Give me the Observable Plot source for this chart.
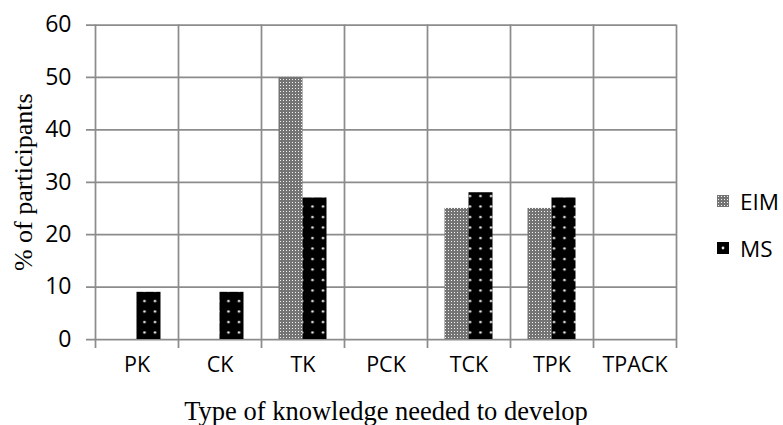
<!DOCTYPE html>
<html><head><meta charset="utf-8">
<script src="https://cdn.jsdelivr.net/npm/d3@7"></script>
<script src="https://cdn.jsdelivr.net/npm/@observablehq/plot@0.6"></script>
<style>
body{margin:0;background:#fff;}
#wrap{position:relative;width:783px;height:425px;overflow:hidden;}
#legend{position:absolute;left:717px;top:186px;font-family:"Open Sans",sans-serif;font-size:22.5px;color:#000;}
.item{display:flex;align-items:center;height:30px;margin-bottom:17px;}
.item svg{margin-right:11px;}
</style></head><body><div id="wrap"></div>
<script>
const categories = ["PK","CK","TK","PCK","TCK","TPK","TPACK"];
const series = ["EIM","MS"];
const eimValues = [0,0,50,0,25,25,0];
const msValues = [9,9,27,0,28,27,0];
const yTicks = [0,10,20,30,40,50,60];

const data = [];
categories.forEach((c,i)=>{
  data.push({category:c, series:"EIM", value:eimValues[i]});
  data.push({category:c, series:"MS", value:msValues[i]});
});

const W=783, H=425, ml=95, mr=107, mt=24.5, mb=86;
const step = (W-ml-mr)/categories.length;
const barW = 24;
const grid = "#8c8c8c";

const plot = Plot.plot({
  width: W, height: H,
  marginLeft: ml, marginRight: mr, marginTop: mt, marginBottom: mb,
  x: {type:"band", domain: categories, padding: 0},
  y: {domain: [0,60]},
  marks: [
    Plot.ruleY(yTicks, {stroke: grid, strokeWidth: 1.75, insetLeft: -9}),
    Plot.ruleX(categories, {x: d=>d, dx: -step/2, stroke: grid, strokeWidth: 1.75, insetBottom: -9}),
    Plot.ruleX(categories.slice(-1), {x: d=>d, dx: step/2, stroke: grid, strokeWidth: 1.75, insetBottom: -9}),
    Plot.barY(data.filter(d=>d.series==="EIM"), {x:"category", y:"value", fill:"url(#pEIM)", insetLeft: step/2-barW, insetRight: step/2}),
    Plot.barY(data.filter(d=>d.series==="MS"), {x:"category", y:"value", fill:"url(#pMS)", insetLeft: step/2, insetRight: step/2-barW}),
    Plot.axisY({ticks: yTicks, tickSize: 0, tickPadding: 24, fontSize: 23, fontFamily: "Open Sans", label: null}),
    Plot.axisX({tickSize: 0, tickPadding: 17, fontSize: 21.5, fontFamily: "Open Sans", label: null}),
    Plot.axisY({ticks: [], tickSize: 0, label: "% of participants", labelAnchor: "center", labelArrow: "none", labelOffset: 82, fontSize: 26, fontFamily: "Liberation Serif"}),
    Plot.axisX({ticks: [], tickSize: 0, label: "Type of knowledge needed to develop", labelAnchor: "center", labelArrow: "none", labelOffset: 80, fontSize: 26.5, fontFamily: "Liberation Serif"})
  ]
});

const defs = `<defs>
<pattern id="pEIM" patternUnits="userSpaceOnUse" width="3" height="3">
<rect width="3" height="3" fill="#747474"/><rect x="1" y="1" width="1" height="1" fill="#f2f2f2"/>
</pattern>
<pattern id="pMS" patternUnits="userSpaceOnUse" width="10.5" height="10.5" x="3" y="2">
<rect width="10.5" height="10.5" fill="#000"/><circle cx="5" cy="5" r="1.3" fill="#e8e8e8"/>
</pattern>
<pattern id="pMSl" patternUnits="userSpaceOnUse" width="12" height="12">
<rect width="12" height="12" fill="#000"/><circle cx="6" cy="6" r="1.4" fill="#e8e8e8"/>
</pattern>
</defs>`;
d3.select(plot).insert("g", ":first-child").html(defs);

const wrap = document.getElementById("wrap");
wrap.appendChild(plot);

const legend = d3.select(wrap).append("div").attr("id","legend");
const swatchFill = {EIM: "url(#pEIM)", MS: "url(#pMSl)"};
series.forEach(s=>{
  const it = legend.append("div").attr("class","item");
  it.append("svg").attr("width",12).attr("height",12)
    .append("rect").attr("width",12).attr("height",12).attr("fill", swatchFill[s]);
  it.append("span").text(s);
});
</script></body></html>
